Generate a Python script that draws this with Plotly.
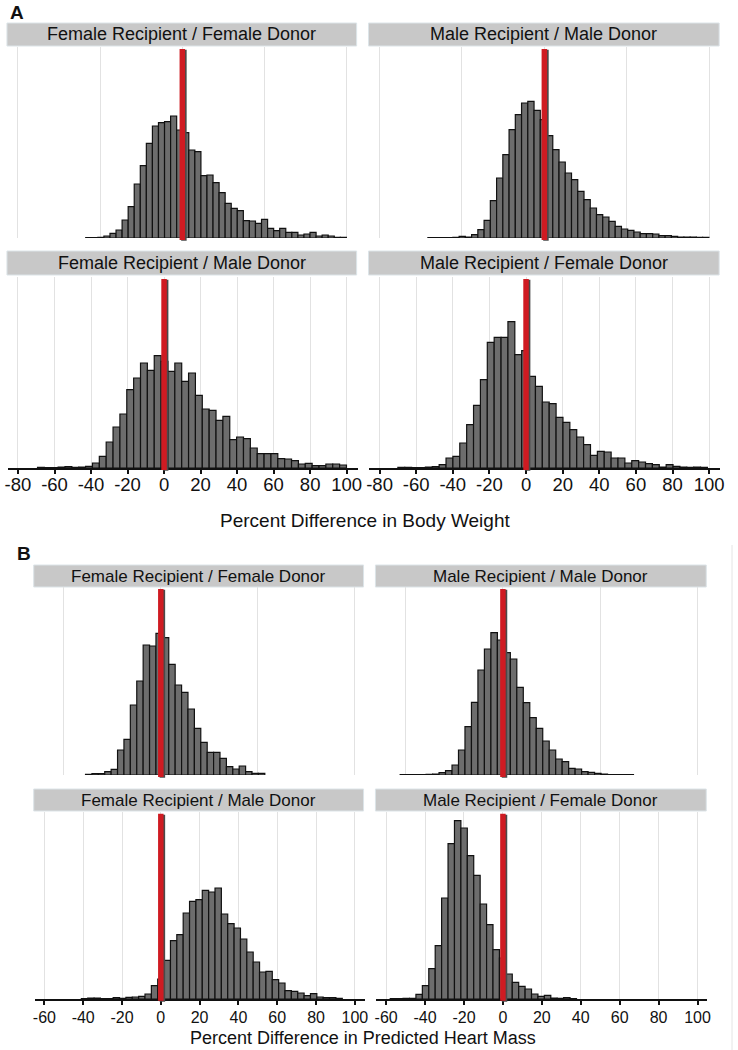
import plotly.graph_objects as go

# ---- data (bar heights, arbitrary density units) ----
# Panel A: percent difference in body weight
bw_ff_start, bw_ff_width = -42.9, 3.32
bw_ff = [1, 1, 2, 6, 14, 24, 54, 94, 162, 217, 284, 336, 346, 349, 366, 324, 316, 264,
         259, 187, 189, 166, 136, 104, 89, 82, 52, 51, 44, 56, 29, 22, 29, 17, 17, 9,
         12, 17, 6, 9, 6, 2, 2]

bw_mm_start, bw_mm_width = -53.6, 3.41
bw_mm = [1, 1, 1, 1, 2, 5, 3, 10, 25, 53, 112, 180, 250, 325, 370, 405, 410, 383, 355,
         307, 265, 228, 195, 175, 140, 115, 90, 70, 63, 50, 35, 27, 23, 18, 13, 13, 12,
         7, 7, 5, 3, 3, 3, 2, 2]

bw_fm_start, bw_fm_width = -69.3, 3.76
bw_fm = [2, 1, 1, 3, 4, 2, 3, 5, 15, 35, 78, 123, 162, 235, 270, 315, 293, 337, 320,
         290, 315, 260, 285, 218, 177, 173, 143, 155, 85, 93, 88, 60, 43, 43, 43, 28,
         27, 22, 12, 14, 7, 7, 12, 12, 9]

bw_mf_start, bw_mf_width = -70.0, 3.757
bw_mf = [2, 2, 1, 1, 3, 4, 10, 30, 35, 75, 130, 188, 265, 377, 392, 392, 439, 340, 352,
         275, 245, 198, 193, 152, 137, 115, 93, 70, 38, 50, 48, 30, 30, 15, 22, 18, 13,
         10, 3, 10, 5, 3, 2, 3, 2]

# Panel B: percent difference in predicted heart mass
hm_ff_start, hm_ff_width = -38.8, 3.30
hm_ff = [2, 4, 4, 10, 17, 75, 107, 210, 282, 390, 387, 425, 412, 332, 270, 248, 198,
         140, 98, 68, 68, 50, 25, 18, 27, 10, 5, 5]

hm_mm_start, hm_mm_width = -52.8, 3.33
hm_mm = [1, 1, 1, 1, 2, 3, 7, 13, 30, 75, 145, 218, 315, 378, 427, 405, 367, 348, 263,
         217, 172, 140, 102, 75, 48, 40, 20, 18, 10, 8, 5, 3, 1, 1, 1, 1]

hm_fm_start, hm_fm_width = -40.95, 3.28
hm_fm = [1, 3, 3, 1, 1, 4, 2, 5, 6, 8, 15, 40, 60, 116, 175, 193, 258, 293, 298, 326,
         321, 333, 255, 226, 213, 180, 141, 111, 81, 83, 58, 48, 25, 23, 18, 10, 16, 6,
         4, 4, 2]

hm_mf_start, hm_mf_width = -57.9, 3.30
hm_mf = [1, 1, 2, 2, 14, 40, 91, 160, 303, 466, 535, 513, 430, 371, 285, 223, 148, 123,
         75, 50, 38, 30, 15, 8, 11, 3, 2, 4, 1]

titles = ["Female Recipient / Female Donor", "Male Recipient / Male Donor",
          "Female Recipient / Male Donor", "Male Recipient / Female Donor"]
ref_bw_top = 10
ref_other = 0
grid_a_top = [-80, -35, 10, 55, 100]
ticks_a = [-80, -60, -40, -20, 0, 20, 40, 60, 80, 100]
grid_b_top = [-50, 0, 50, 100]
ticks_b = [-60, -40, -20, 0, 20, 40, 60, 80, 100]

W, H = 738, 1050
BAR_FILL = "#6d6d6d"
RED = "#cf1b22"
FONT = "Liberation Sans, Arial, sans-serif"

# subplot layout in pixels: (x0, x1) plot, (top, bottom) plot, strip (top, bottom)
panels = [
    (titles[0], bw_ff_start, bw_ff_width, bw_ff, ref_bw_top, [-85.5, 106], 573, grid_a_top, False, (5, 358), (47, 238), (23, 46), 18, 18.5, -5),
    (titles[1], bw_mm_start, bw_mm_width, bw_mm, ref_bw_top, [-85.5, 106], 573, grid_a_top, False, (370, 724), (47, 238), (23, 46), 18, 18.5, -5),
    (titles[2], bw_fm_start, bw_fm_width, bw_fm, ref_other, [-85.5, 106], 573, ticks_a, True, (5, 358), (277, 468), (251, 275), 18, 18.5, -5),
    (titles[3], bw_mf_start, bw_mf_width, bw_mf, ref_other, [-85.5, 106], 573, ticks_a, True, (370, 724), (277, 468), (251, 275), 18, 18.5, -5),
    (titles[0], hm_ff_start, hm_ff_width, hm_ff, ref_other, [-65, 105], 564, grid_b_top, False, (32, 365), (587, 775), (565, 587), 17, 16, -1),
    (titles[1], hm_mm_start, hm_mm_width, hm_mm, ref_other, [-65, 105], 564, grid_b_top, False, (377, 711), (587, 775), (565, 587), 17, 16, -1),
    (titles[2], hm_fm_start, hm_fm_width, hm_fm, ref_other, [-65, 105], 561, ticks_b, True, (32, 365), (812, 999), (789, 811), 17, 16, -1),
    (titles[3], hm_mf_start, hm_mf_width, hm_mf, ref_other, [-65, 105], 561, ticks_b, True, (377, 711), (812, 999), (789, 811), 17, 16, -1),
]

fig = go.Figure()
shapes = []
annotations = []
layout = {}

for i, (title, start, width, heights, ref, xr, ymax, tv, labels, xpx, ypx, strip, sfont, tfont, stand) in enumerate(panels):
    sfx = "" if i == 0 else str(i + 1)
    centers = [start + width * (k + 0.5) for k in range(len(heights))]
    fig.add_trace(go.Bar(
        x=centers, y=heights, width=width,
        marker=dict(color=BAR_FILL, line=dict(color="#111111", width=1.2)),
        xaxis=f"x{sfx}", yaxis=f"y{sfx}", showlegend=False, hoverinfo="skip"))

    layout[f"xaxis{sfx}"] = dict(
        domain=[xpx[0] / W, xpx[1] / W], anchor=f"y{sfx}", range=xr,
        tickmode="array", tickvals=tv, ticktext=[str(v) for v in tv],
        showgrid=True, gridcolor="#e2e2e2", gridwidth=1.2,
        zeroline=False, showticklabels=labels, showline=labels,
        linecolor="#111111", linewidth=1.5,
        ticks="outside" if labels else "", ticklen=4, tickwidth=1.5, tickcolor="#111111",
        ticklabelstandoff=stand,
        tickfont=dict(family=FONT, size=tfont, color="#111111"), fixedrange=True)
    layout[f"yaxis{sfx}"] = dict(
        domain=[1 - ypx[1] / H, 1 - ypx[0] / H], anchor=f"x{sfx}", range=[0, ymax],
        visible=False, fixedrange=True)

    # reference line with a slight dark shadow on its right
    pxu = (xpx[1] - xpx[0]) / (xr[1] - xr[0])
    shapes.append(dict(type="line", xref=f"x{sfx}", yref=f"y{sfx} domain",
                       x0=ref + 1.6 / pxu, x1=ref + 1.6 / pxu, y0=-0.015, y1=0.985,
                       line=dict(color="#4a4a4a", width=5.5)))
    shapes.append(dict(type="line", xref=f"x{sfx}", yref=f"y{sfx} domain",
                       x0=ref, x1=ref, y0=-0.01, y1=0.99,
                       line=dict(color=RED, width=5.5)))

    # facet strip
    shapes.append(dict(type="rect", xref="paper", yref="paper",
                       x0=(xpx[0] - 1) / W, x1=(xpx[1] - 1) / W,
                       y0=1 - strip[1] / H, y1=1 - strip[0] / H,
                       fillcolor="#c8c8c8", line=dict(color="#dce4e8", width=1), layer="below"))
    annotations.append(dict(text=title, xref="paper", yref="paper",
                            x=(xpx[0] + xpx[1] - 2) / 2 / W, y=1 - (strip[0] + strip[1]) / 2 / H,
                            xanchor="center", yanchor="middle", showarrow=False,
                            font=dict(family=FONT, size=sfont, color="#111111")))

# panel letters and axis titles
annotations += [
    dict(text="<b>A</b>", x=5 / W, y=1 - 12 / H, xanchor="left", yanchor="middle",
         xref="paper", yref="paper", showarrow=False, font=dict(family=FONT, size=19, color="#111111")),
    dict(text="<b>B</b>", x=12 / W, y=1 - 553 / H, xanchor="left", yanchor="middle",
         xref="paper", yref="paper", showarrow=False, font=dict(family=FONT, size=19, color="#111111")),
    dict(text="Percent Difference in Body Weight", x=365 / W, y=1 - 520 / H,
         xanchor="center", yanchor="middle", xref="paper", yref="paper", showarrow=False,
         font=dict(family=FONT, size=19, color="#111111")),
    dict(text="Percent Difference in Predicted Heart Mass", x=363 / W, y=1 - 1038 / H,
         xanchor="center", yanchor="middle", xref="paper", yref="paper", showarrow=False,
         font=dict(family=FONT, size=18, color="#111111")),
]
# faint frame edge at the right of panel B
shapes.append(dict(type="line", xref="paper", yref="paper", x0=736 / W, x1=736 / W,
                   y0=0, y1=1 - 545 / H, line=dict(color="#e4e4e4", width=1)))

fig.update_layout(
    width=W, height=H, margin=dict(l=0, r=0, t=0, b=0),
    paper_bgcolor="white", plot_bgcolor="white",
    shapes=shapes, annotations=annotations, showlegend=False, **layout)

# drop the browser's default page margin so the figure sits at the window's corner
fig.write_html("out.html", config={"displayModeBar": False},
               post_script="document.body.style.margin='0';")
